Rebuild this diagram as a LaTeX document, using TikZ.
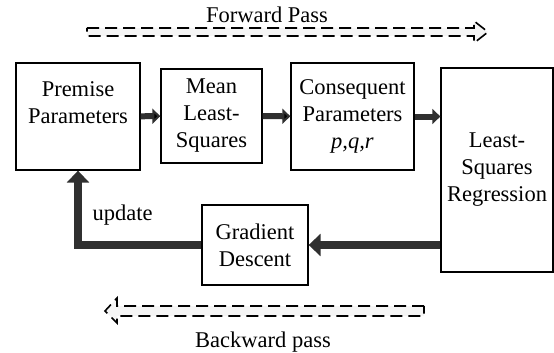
\documentclass[tikz,border=0pt]{standalone}
\usepackage{fontspec}
\setmainfont{Liberation Serif}
\usetikzlibrary{arrows.meta,positioning}
\definecolor{arrowgray}{HTML}{303030}
\tikzset{box/.style={rectangle,draw=black,line width=1.3pt,inner sep=0pt,align=center,
  font=\fontsize{22.5}{27}\selectfont}}
\tikzset{label text/.style={font=\fontsize{22.5}{27}\selectfont}}
\tikzset{blockarrow/.style={draw=arrowgray,line width=6pt,-{Triangle[length=8pt,width=15pt]}}}
\tikzset{bigarrow/.style={draw=arrowgray,line width=8.5pt,-{Triangle[length=12pt,width=22pt]}}}
\tikzset{pass/.style={draw=black,line width=1.6pt,dash pattern=on 12pt off 6pt,fill=black!4}}

\begin{document}
\begin{tikzpicture}[x=1pt,y=-1pt]
\useasboundingbox (0,0) rectangle (554,353);
% \draw[help lines,step=50] (0,0) grid (554,353);
\node (prem) [box,minimum width=124pt,minimum height=107pt] at (78,116.5) {Premise\\Parameters\\\mbox{}};
\node (mean) [box,minimum width=101pt,minimum height=94pt] at (211.5,116) {Mean\\Least-\\Squares};
\node (cons) [box,minimum width=123pt,minimum height=107pt] at (352.5,116.5) {Consequent\\Parameters\\\textit{p,q,r}};
\node (lsr) [box,minimum width=112pt,minimum height=204pt] at (497,170) {Least-\\Squares\\Regression};
\node (gd) [box,minimum width=106pt,minimum height=80pt] at (255,245) {Gradient\\Descent};
%
\path[blockarrow] (prem) edge (mean);
\path[blockarrow] (mean) edge (cons);
\draw[blockarrow] (cons.east) -- (cons.east -| lsr.west);
\draw[bigarrow] (gd.east -| lsr.west) -- (gd.east);
\draw[bigarrow] (gd.west) -| (prem.south);
\node (upd) [label text,anchor=base west] at (89,220) {update};
%
\draw[pass] (87,28) -- (474,28) -- (474,21) -- (488,32) -- (474,43) -- (474,36) -- (87,36) -- cycle;
\node (fwd) [label text,anchor=base] at (267,23) {Forward Pass};
\draw[pass] (424,306) -- (117,306) -- (117,298) -- (105,311) -- (117,323) -- (117,316) -- (424,316) -- cycle;
\node (bwd) [label text,anchor=base] at (263,347) {Backward pass};
\end{tikzpicture}
\end{document}
